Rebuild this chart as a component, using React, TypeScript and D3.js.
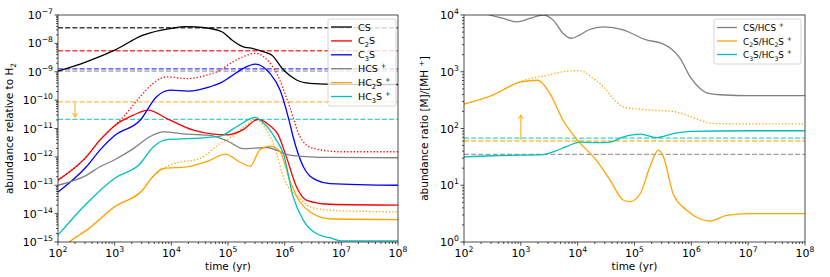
import React, { useEffect, useRef } from 'react';
import * as d3 from 'd3';

// all values are log10: time in yr, abundance rel. to H2
const csTime = [2, 2.5, 3, 3.5, 4, 4.26, 4.6, 4.9, 5.05, 5.27, 5.39, 5.62, 5.77, 5.98, 6.21, 6.45, 6.8, 7.5, 8];
const csAbund = [-8.98, -8.65, -8.24, -7.71, -7.47, -7.41, -7.45, -7.6, -7.85, -8.12, -8.16, -8.29, -8.41, -8.94, -9.29, -9.41, -9.44, -9.45, -9.45];

const c2sTime = [2, 2.5, 2.74, 3, 3.33, 3.59, 3.92, 4.39, 4.74, 5, 5.26, 5.53, 5.74, 5.88, 6.03, 6.21, 6.39, 6.8, 8];
const c2sAbund = [-12.82, -12, -11.41, -10.9, -10.53, -10.35, -10.65, -11.06, -11.2, -11.22, -11.05, -10.68, -10.9, -11.2, -12, -13.06, -13.53, -13.67, -13.7];
const c2sDotTime = [2, 2.5, 2.74, 3, 3.15, 3.45, 3.68, 3.92, 4.27, 4.62, 4.86, 5.04, 5.27, 5.48, 5.65, 5.86, 6.09, 6.27, 6.5, 7, 8];
const c2sDotAbund = [-12.82, -12, -11.41, -10.9, -10.6, -9.88, -9.41, -9.18, -9.24, -9.12, -8.95, -8.71, -8.47, -8.35, -8.5, -9.06, -10.24, -11.29, -11.7, -11.82, -11.82];

const c3sTime = [2, 2.5, 2.74, 3, 3.45, 3.74, 3.98, 4.3, 4.68, 4.86, 5.04, 5.27, 5.48, 5.74, 5.92, 6.09, 6.15, 6.33, 6.56, 6.8, 8];
const c3sAbund = [-13.24, -12.35, -11.76, -11.25, -10.71, -9.88, -9.65, -9.68, -9.53, -9.4, -9.18, -8.88, -8.73, -9.06, -9.65, -10.81, -11.3, -12.35, -12.82, -12.94, -13];

const hcsTime = [2, 2.5, 2.74, 3, 3.33, 3.62, 3.86, 4.27, 4.68, 5, 5.27, 5.68, 6.09, 6.45, 6.8, 8];
const hcsAbund = [-13, -12.65, -12.35, -12.1, -11.71, -11.29, -11.12, -11.2, -11.24, -11.45, -11.71, -11.67, -11.94, -12, -12.02, -12.03];

const hc2sTime = [2, 2.2, 2.5, 3, 3.5, 3.65, 3.86, 4.27, 4.68, 4.95, 5.21, 5.39, 5.56, 5.74, 5.92, 6.09, 6.27, 6.45, 6.8, 8];
const hc2sAbund = [-15.4, -15, -14.59, -13.76, -13.15, -12.75, -12.41, -12.35, -12.12, -11.9, -12.18, -12.33, -11.76, -11.62, -11.82, -12.82, -13.59, -13.94, -14.18, -14.21];
const hc2sDotTime = [2, 2.2, 2.5, 3, 3.5, 3.65, 3.86, 4.04, 4.5, 4.86, 5.15, 5.3, 5.48, 5.62, 5.8, 6, 6.27, 6.45, 6.8, 8];
const hc2sDotAbund = [-15.4, -15, -14.59, -13.76, -13.15, -12.75, -12.41, -12.24, -12.06, -11.53, -11.18, -10.9, -10.68, -10.88, -11.53, -12.82, -13.47, -13.76, -13.88, -13.94];

const hc3sTime = [2, 2.5, 3, 3.45, 3.68, 3.92, 4.39, 4.86, 5.15, 5.48, 5.62, 5.74, 5.85, 5.98, 6.15, 6.33, 6.62, 6.8, 7, 8];
const hc3sAbund = [-14.76, -13.65, -12.75, -12.24, -11.65, -11.39, -11.35, -11.27, -10.94, -10.61, -10.8, -11.06, -11.4, -11.9, -13.41, -14.24, -14.76, -14.85, -14.96, -14.96];

// observed abundances (dashed)
const obsNames = ['CS', 'C2S', 'C3S', 'HCS+', 'HC2S+', 'HC3S+'];
const obsAbund = [-7.45, -8.26, -8.9, -8.98, -10.06, -10.68];

// ratios
const csRatioTime = [2, 2.3, 2.45, 2.69, 2.92, 3.16, 3.39, 3.57, 3.74, 3.89, 4.04, 4.2, 4.45, 4.8, 5.21, 5.48, 5.65, 5.8, 5.98, 6.15, 6.3, 6.6, 7, 8];
const csRatio = [4.1, 4.05, 4, 3.94, 3.88, 3.94, 4, 3.91, 3.68, 3.59, 3.65, 3.74, 3.79, 3.74, 3.56, 3.5, 3.4, 3.24, 2.91, 2.71, 2.62, 2.59, 2.58, 2.58];
const c2sRatioTime = [2, 2.51, 3, 3.3, 3.51, 3.74, 4, 4.33, 4.57, 4.8, 4.92, 5.1, 5.27, 5.42, 5.51, 5.68, 5.92, 6.15, 6.33, 6.62, 7, 8];
const c2sRatio = [2.43, 2.59, 2.82, 2.85, 2.62, 2.15, 1.79, 1.44, 1.09, 0.74, 0.71, 0.85, 1.32, 1.62, 1.5, 0.85, 0.56, 0.41, 0.37, 0.47, 0.5, 0.5];
const c2sRatioDotTime = [2, 2.51, 2.8, 3.16, 3.39, 3.74, 4.04, 4.25, 4.45, 4.65, 4.8, 5.21, 5.68, 5.98, 6.15, 6.35, 7, 8];
const c2sRatioDot = [2.43, 2.59, 2.74, 2.88, 2.92, 3.0, 3.02, 2.9, 2.74, 2.5, 2.38, 2.33, 2.3, 2.21, 2.15, 2.09, 2.08, 2.08];
const c3sRatioTime = [2, 2.5, 3, 3.39, 3.6, 3.8, 4.04, 4.33, 4.57, 4.8, 5.1, 5.39, 5.68, 6, 7, 8];
const c3sRatio = [1.5, 1.52, 1.53, 1.54, 1.6, 1.68, 1.76, 1.75, 1.76, 1.85, 1.9, 1.84, 1.91, 1.95, 1.96, 1.96];
const obsRatioNames = ['CS/HCS+', 'C2S/HC2S+', 'C3S/HC3S+'];
const obsRatio = [1.545, 1.78, 1.83];

const colors: Record<string, string> = {
    'CS': '#000000', 'C2S': '#ff0000', 'C3S': '#0000ff',
    'HCS+': '#808080', 'HC2S+': '#ffa500', 'HC3S+': '#00bfbf',
    'CS/HCS+': '#808080', 'C2S/HC2S+': '#ffa500', 'C3S/HC3S+': '#00bfbf',
};
const legendLabels: Record<string, string> = {
    'CS': 'CS', 'C2S': 'C_2S', 'C3S': 'C_3S', 'HCS+': 'HCS ^+', 'HC2S+': 'HC_2S ^+', 'HC3S+': 'HC_3S ^+',
    'CS/HCS+': 'CS/HCS ^+', 'C2S/HC2S+': 'C_2S/HC_2S ^+', 'C3S/HC3S+': 'C_3S/HC_3S ^+',
};

const FONT = 'DejaVu Sans, sans-serif';

// tiny markup: _x subscript, ^x superscript (one char)
function richText(sel: any, str: string, size: number) {
    const parts: { t: string; k: string }[] = [];
    let buf = '';
    for (let i = 0; i < str.length; i++) {
        const c = str[i];
        if (c === '_' || c === '^') {
            if (buf) parts.push({ t: buf, k: 'n' });
            buf = '';
            parts.push({ t: str[i + 1], k: c });
            i++;
        } else buf += c;
    }
    if (buf) parts.push({ t: buf, k: 'n' });
    let shift = 0;
    parts.forEach(p => {
        const target = p.k === '_' ? size * 0.3 : p.k === '^' ? -size * 0.4 : 0;
        sel.append('tspan')
            .attr('dy', target - shift)
            .attr('font-size', p.k === 'n' ? size : size * 0.7)
            .text(p.t === ' ' ? '\u2009' : p.t);
        shift = target;
    });
}

function drawPanel(svg: any, cfg: any) {
    const { x0, x1, y0, y1, yExp, id } = cfg;
    const x = d3.scaleLog().domain([1e2, 1e8]).range([x0, x1]);
    const y = d3.scaleLog().domain([10 ** yExp[0], 10 ** yExp[1]]).range([y1, y0]);

    svg.append('clipPath').attr('id', id).append('rect')
        .attr('x', x0).attr('y', y0).attr('width', x1 - x0).attr('height', y1 - y0);

    const g = svg.append('g').attr('clip-path', `url(#${id})`);

    // observed levels
    cfg.obs.forEach((name: string, i: number) => {
        g.append('line')
            .attr('x1', x0).attr('x2', x1)
            .attr('y1', y(10 ** cfg.obsVals[i])).attr('y2', y(10 ** cfg.obsVals[i]))
            .attr('stroke', colors[name]).attr('stroke-width', 1.3)
            .attr('stroke-dasharray', '5,2.2').attr('opacity', 0.75);
    });

    const line = (T: number[]) => d3.line<number>()
        .x((_, i) => x(10 ** T[i]))
        .y(v => y(10 ** v))
        .curve(d3.curveMonotoneX);

    cfg.series.forEach((s: any) => {
        g.append('path')
            .attr('d', line(s.t)(s.v))
            .attr('fill', 'none')
            .attr('stroke', colors[s.name])
            .attr('stroke-width', 1.3)
            .attr('stroke-dasharray', s.dotted ? '1.3,2' : null);
    });

    // limit arrow
    const ax = x(10 ** cfg.arrow.t);
    const ya = y(10 ** cfg.arrow.from), yb = y(10 ** cfg.arrow.to);
    const dir = yb > ya ? 1 : -1;
    g.append('line').attr('x1', ax).attr('x2', ax).attr('y1', ya).attr('y2', yb)
        .attr('stroke', '#ffa500').attr('stroke-width', 1);
    g.append('path')
        .attr('d', `M${ax - 2.5},${yb - dir * 4}L${ax},${yb}L${ax + 2.5},${yb - dir * 4}`)
        .attr('fill', 'none').attr('stroke', '#ffa500').attr('stroke-width', 1);

    // frame
    svg.append('rect').attr('x', x0).attr('y', y0).attr('width', x1 - x0).attr('height', y1 - y0)
        .attr('fill', 'none').attr('stroke', '#222').attr('stroke-width', 0.8);

    // ticks
    const ticks = svg.append('g').attr('stroke', '#222').attr('stroke-width', 0.8);
    for (let e = 2; e <= 8; e++) {
        ticks.append('line').attr('x1', x(10 ** e)).attr('x2', x(10 ** e)).attr('y1', y1).attr('y2', y1 + 3.5);
        if (e < 8) for (let m = 2; m < 10; m++) {
            const xx = x(m * 10 ** e);
            ticks.append('line').attr('x1', xx).attr('x2', xx).attr('y1', y1).attr('y2', y1 + 2);
        }
        const lab = svg.append('text').attr('x', x(10 ** e)).attr('y', y1 + 15)
            .attr('text-anchor', 'middle').attr('font-family', FONT).attr('font-size', 11).attr('fill', '#000');
        lab.append('tspan').text('10');
        lab.append('tspan').attr('dy', -5).attr('font-size', 7.7).text(String(e));
    }
    for (let e = yExp[0]; e <= yExp[1]; e++) {
        ticks.append('line').attr('x1', x0 - 3.5).attr('x2', x0).attr('y1', y(10 ** e)).attr('y2', y(10 ** e));
        if (e < yExp[1]) for (let m = 2; m < 10; m++) {
            const yy = y(m * 10 ** e);
            ticks.append('line').attr('x1', x0 - 2).attr('x2', x0).attr('y1', yy).attr('y2', yy);
        }
        const lab = svg.append('text').attr('x', x0 - 5).attr('y', y(10 ** e) + 4)
            .attr('text-anchor', 'end').attr('font-family', FONT).attr('font-size', 11).attr('fill', '#000');
        lab.append('tspan').text('10');
        lab.append('tspan').attr('dy', -5).attr('font-size', 7.7).text(String(e).replace('-', '\u2212'));
    }

    // axis labels
    svg.append('text').attr('x', (x0 + x1) / 2).attr('y', y1 + 28)
        .attr('text-anchor', 'middle').attr('font-family', FONT).attr('font-size', 10.5).text('time (yr)');
    const yl = svg.append('text')
        .attr('transform', `translate(${cfg.yLabelX},${(y0 + y1) / 2}) rotate(-90)`)
        .attr('text-anchor', 'middle').attr('font-family', FONT).attr('font-size', 10.5);
    richText(yl, cfg.yLabel, 10.5);

    // legend
    const L = cfg.legend;
    svg.append('rect').attr('x', L.x).attr('y', L.y).attr('width', L.w).attr('height', L.h)
        .attr('rx', 2).attr('fill', 'white').attr('fill-opacity', 0.8)
        .attr('stroke', '#cccccc').attr('stroke-width', 0.8);
    L.names.forEach((name: string, i: number) => {
        const yy = L.y + L.first + i * L.step;
        svg.append('line').attr('x1', L.x + 3).attr('x2', L.x + 3 + L.len).attr('y1', yy).attr('y2', yy)
            .attr('stroke', colors[name]).attr('stroke-width', 1.3);
        const t = svg.append('text').attr('x', L.x + L.len + 9).attr('y', yy + 3.5)
            .attr('font-family', FONT).attr('font-size', L.fs).attr('fill', '#000');
        richText(t, legendLabels[name], L.fs);
    });
}

export default function App() {
    const ref = useRef<SVGSVGElement>(null);

    useEffect(() => {
        const svg = d3.select(ref.current);
        svg.selectAll('*').remove();

        drawPanel(svg, {
            id: 'clipL', x0: 58, x1: 398, y0: 15, y1: 242, yExp: [-15, -7],
            obs: obsNames, obsVals: obsAbund,
            series: [
                { name: 'CS', t: csTime, v: csAbund },
                { name: 'C2S', t: c2sDotTime, v: c2sDotAbund, dotted: true },
                { name: 'HC2S+', t: hc2sDotTime, v: hc2sDotAbund, dotted: true },
                { name: 'C2S', t: c2sTime, v: c2sAbund },
                { name: 'C3S', t: c3sTime, v: c3sAbund },
                { name: 'HCS+', t: hcsTime, v: hcsAbund },
                { name: 'HC2S+', t: hc2sTime, v: hc2sAbund },
                { name: 'HC3S+', t: hc3sTime, v: hc3sAbund },
            ],
            arrow: { t: 2.3, from: -10.1, to: -10.6 },
            yLabel: 'abundance relative to H_2', yLabelX: 13,
            legend: { x: 328, y: 19, w: 68, h: 87, first: 8, step: 13.9, len: 21, fs: 9.5, names: obsNames },
        });

        drawPanel(svg, {
            id: 'clipR', x0: 464, x1: 805, y0: 15, y1: 242, yExp: [0, 4],
            obs: obsRatioNames, obsVals: obsRatio,
            series: [
                { name: 'CS/HCS+', t: csRatioTime, v: csRatio },
                { name: 'C2S/HC2S+', t: c2sRatioDotTime, v: c2sRatioDot, dotted: true },
                { name: 'C2S/HC2S+', t: c2sRatioTime, v: c2sRatio },
                { name: 'C3S/HC3S+', t: c3sRatioTime, v: c3sRatio },
            ],
            arrow: { t: 3, from: 1.8, to: 2.24 },
            yLabel: 'abundance ratio [M]/[MH ^+]', yLabelX: 428,
            legend: { x: 714, y: 19, w: 87, h: 45, first: 8.5, step: 13.5, len: 20, fs: 8.8, names: obsRatioNames },
        });
    }, []);

    return (
        <svg ref={ref} width={830} height={277}
            style={{ position: 'absolute', left: 0, top: 0, background: 'white' }} />
    );
}
